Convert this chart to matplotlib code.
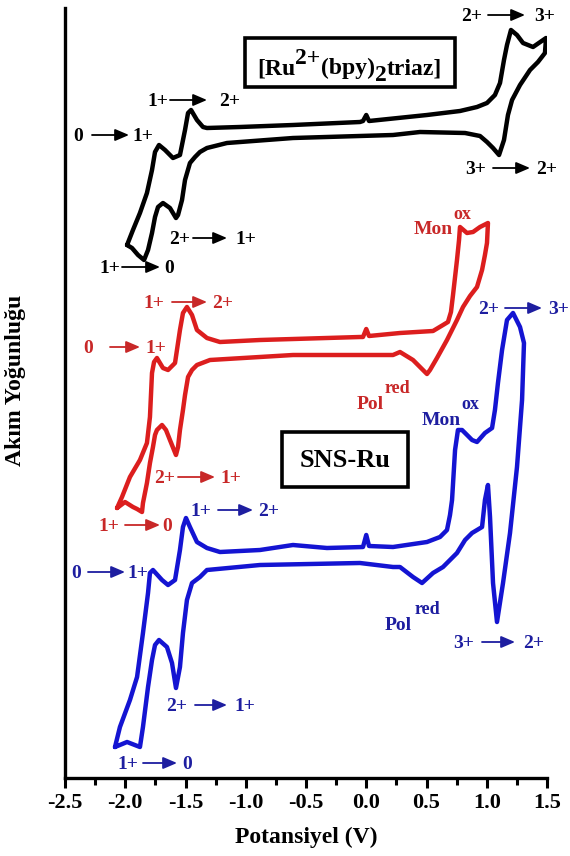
import matplotlib
matplotlib.use('Agg')
import matplotlib.pyplot as plt
from matplotlib.transforms import Affine2D
from matplotlib.patches import Rectangle
from matplotlib.ticker import MultipleLocator

# ---------------- data (potential in V, current density in a.u.) ----------------
black_V = [-1.985, -1.936, -1.878, -1.820, -1.778, -1.753, -1.720, -1.670, -1.604, -1.546,
           -1.504, -1.479, -1.454, -1.405, -1.355, -1.322, -1.048, -0.608, -0.052, -0.027,
           0.000, 0.023, 0.504, 0.778, 0.919, 1.002, 1.068, 1.110, 1.143, 1.168,
           1.201, 1.251, 1.301, 1.384, 1.492, 1.483, 1.425, 1.359, 1.276, 1.210,
           1.176, 1.143, 1.102, 1.052, 1.002, 0.944, 0.820, 0.446, 0.222, -0.608,
           -1.156, -1.322, -1.380, -1.421, -1.463, -1.504, -1.529, -1.562, -1.579, -1.629,
           -1.687, -1.728, -1.753, -1.778, -1.811, -1.844, -1.894, -1.944, -1.985]
black_I = [5.33, 5.48, 5.65, 5.85, 6.08, 6.26, 6.33, 6.28, 6.20, 6.23,
           6.48, 6.65, 6.68, 6.58, 6.51, 6.50, 6.51, 6.53, 6.56, 6.57,
           6.63, 6.57, 6.63, 6.67, 6.71, 6.75, 6.83, 6.95, 7.18, 7.33,
           7.48, 7.43, 7.35, 7.31, 7.40, 7.25, 7.16, 7.08, 6.93, 6.78,
           6.63, 6.38, 6.23, 6.30, 6.36, 6.42, 6.45, 6.46, 6.43, 6.40,
           6.35, 6.30, 6.26, 6.21, 6.15, 5.98, 5.78, 5.63, 5.60, 5.70,
           5.75, 5.71, 5.61, 5.45, 5.28, 5.18, 5.23, 5.30, 5.33]

red_V = [-2.068, -2.027, -1.961, -1.878, -1.820, -1.795, -1.778, -1.761, -1.737, -1.687,
         -1.645, -1.587, -1.546, -1.521, -1.488, -1.446, -1.405, -1.322, -1.214, -0.882,
         -0.052, -0.027, 0.000, 0.023, 0.280, 0.554, 0.637, 0.678, 0.703, 0.720,
         0.753, 0.770, 0.778, 0.836, 0.886, 0.944, 1.010, 1.002, 0.985, 0.961,
         0.919, 0.861, 0.803, 0.753, 0.670, 0.587, 0.529, 0.504, 0.446, 0.388,
         0.280, 0.222, -0.608, -1.297, -1.405, -1.446, -1.479, -1.504, -1.521, -1.546,
         -1.562, -1.579, -1.629, -1.662, -1.695, -1.737, -1.753, -1.770, -1.795, -1.820,
         -1.853, -1.861, -1.902, -1.936, -2.002, -2.068]
red_I = [2.70, 2.81, 3.01, 3.18, 3.35, 3.61, 4.05, 4.16, 4.20, 4.10,
         4.08, 4.15, 4.48, 4.65, 4.71, 4.63, 4.48, 4.40, 4.36, 4.38,
         4.41, 4.41, 4.49, 4.42, 4.45, 4.47, 4.53, 4.56, 4.66, 4.83,
         5.18, 5.38, 5.51, 5.45, 5.46, 5.51, 5.55, 5.35, 5.23, 5.08,
         4.91, 4.82, 4.71, 4.58, 4.38, 4.20, 4.08, 4.04, 4.11, 4.18,
         4.26, 4.23, 4.23, 4.18, 4.13, 4.08, 4.01, 3.83, 3.68, 3.48,
         3.31, 3.23, 3.38, 3.48, 3.53, 3.48, 3.43, 3.31, 3.15, 2.95,
         2.75, 2.66, 2.69, 2.71, 2.76, 2.70]

blue_V = [-2.085, -2.044, -1.961, -1.902, -1.853, -1.811, -1.795, -1.770, -1.695, -1.645,
          -1.587, -1.546, -1.521, -1.496, -1.463, -1.405, -1.322, -1.214, -0.882, -0.608,
          -0.326, -0.027, 0.000, 0.023, 0.222, 0.504, 0.612, 0.670, 0.695, 0.712,
          0.737, 0.761, 0.795, 0.820, 0.878, 0.919, 0.985, 1.044, 1.068, 1.093,
          1.127, 1.168, 1.218, 1.276, 1.309, 1.293, 1.251, 1.193, 1.135, 1.085,
          1.052, 1.027, 1.010, 0.985, 0.961, 0.878, 0.820, 0.753, 0.637, 0.554,
          0.463, 0.388, 0.280, 0.222, -0.052, -0.882, -1.322, -1.380, -1.446, -1.488,
          -1.521, -1.546, -1.579, -1.612, -1.654, -1.720, -1.753, -1.778, -1.811, -1.853,
          -1.878, -1.985, -2.085]
blue_I = [0.31, 0.51, 0.78, 1.01, 1.45, 1.85, 2.05, 2.08, 1.98, 1.93,
          1.98, 2.28, 2.51, 2.60, 2.51, 2.36, 2.30, 2.26, 2.28, 2.33,
          2.30, 2.31, 2.43, 2.32, 2.31, 2.36, 2.41, 2.48, 2.63, 2.78,
          3.28, 3.48, 3.48, 3.45, 3.38, 3.36, 3.45, 3.50, 3.68, 3.95,
          4.28, 4.58, 4.65, 4.51, 4.35, 3.78, 3.11, 2.45, 1.95, 1.56,
          1.95, 2.61, 2.93, 2.78, 2.51, 2.45, 2.38, 2.25, 2.11, 2.05,
          1.95, 2.01, 2.11, 2.11, 2.15, 2.13, 2.08, 2.01, 1.95, 1.78,
          1.45, 1.11, 0.90, 1.15, 1.31, 1.38, 1.33, 1.18, 0.91, 0.51,
          0.31, 0.36, 0.31]

x_ticks = [-2.5, -2.0, -1.5, -1.0, -0.5, 0.0, 0.5, 1.0, 1.5]
x_tick_labels = ['-2.5', '-2.0', '-1.5', '-1.0', '-0.5', '0.0', '0.5', '1.0', '1.5']

BLACK = '#000000'
RED = '#dc1e1e'
BLUE = '#1414d2'
RED_T = '#c82828'
BLUE_T = '#1e1ea0'

# ---------------- style ----------------
plt.rcParams['font.family'] = ['Liberation Serif', 'DejaVu Serif']
plt.rcParams['font.weight'] = 'bold'

W, H = 570, 856
fig = plt.figure(figsize=(W / 100, H / 100), dpi=100)
ax = fig.add_axes([65 / W, 1 - 778 / H, 482 / W, 770 / H])

for V, I, c in [(black_V, black_I, BLACK), (red_V, red_I, RED), (blue_V, blue_I, BLUE)]:
    ax.plot(V, I, color=c, lw=3.2, solid_joinstyle='round', solid_capstyle='round')

ax.set_xlim(-2.5, 1.5)
ax.set_ylim(0, 7.70)
for s in ['top', 'right']:
    ax.spines[s].set_visible(False)
for s in ['left', 'bottom']:
    ax.spines[s].set_linewidth(2.4)
ax.set_yticks([])
ax.set_xticks(x_ticks)
ax.set_xticklabels(x_tick_labels)
ax.xaxis.set_minor_locator(MultipleLocator(0.25))
ax.tick_params(axis='x', which='major', direction='out', length=7, width=2.2, pad=3.5,
               labelsize=16)
ax.tick_params(axis='x', which='minor', direction='out', length=5, width=2.2)
for lab in ax.get_xticklabels():
    lab.set_fontweight('bold')

ax.set_xlabel('Potansiyel (V)', fontsize=17, fontweight='bold', labelpad=10)
ax.set_ylabel('Akım Yoğunluğu', fontsize=17, fontweight='bold')
ax.yaxis.set_label_coords(-0.080, 0.517)

# pixel transform for annotations (origin top-left of the image)
PX = Affine2D().scale(1 / W, -1 / H).translate(0, 1) + fig.transFigure


def ttext(x, y, s, color, fs=14, ha='center', va='baseline'):
    return ax.text(x, y, s, transform=PX, ha=ha, va=va, color=color, fontsize=fs,
                   fontweight='bold', clip_on=False)


def trans(a, b, xa, x0, x1, xb, y, color):
    ttext(xa, y + 6, a, color)
    ttext(xb, y + 6, b, color)
    ax.annotate('', xy=(x1, y), xytext=(x0, y), xycoords=PX, textcoords=PX,
                arrowprops=dict(arrowstyle='-|>,head_length=0.7,head_width=0.3',
                                color=color, lw=1.3, shrinkA=0, shrinkB=0,
                                mutation_scale=12), annotation_clip=False)


# black
trans('1+', '2+', 158, 170, 207, 230, 100, BLACK)
trans('0', '1+', 78, 92, 129, 143, 135, BLACK)
trans('3+', '2+', 476, 493, 530, 547, 168, BLACK)
trans('2+', '3+', 472, 488, 525, 545, 15, BLACK)
trans('2+', '1+', 180, 193, 227, 246, 238, BLACK)
trans('1+', '0', 110, 122, 160, 169, 267, BLACK)
# red
trans('1+', '2+', 154, 172, 207, 223, 302, RED_T)
trans('0', '1+', 88, 110, 140, 156, 347, RED_T)
trans('2+', '1+', 165, 178, 215, 231, 477, RED_T)
trans('1+', '0', 109, 125, 160, 167, 525, RED_T)
ttext(433, 234, 'Mon', RED_T)
ttext(462, 219, 'ox', RED_T, fs=13)
ttext(370, 409, 'Pol', RED_T)
ttext(397, 393, 'red', RED_T, fs=13)
# blue
trans('1+', '2+', 201, 218, 253, 269, 510, BLUE_T)
trans('0', '1+', 76, 88, 125, 138, 572, BLUE_T)
trans('2+', '1+', 177, 195, 227, 245, 705, BLUE_T)
trans('1+', '0', 128, 143, 177, 187, 763, BLUE_T)
trans('3+', '2+', 464, 482, 515, 534, 642, BLUE_T)
trans('2+', '3+', 489, 505, 542, 559, 308, BLUE_T)
ttext(441, 425, 'Mon', BLUE_T)
ttext(470, 409, 'ox', BLUE_T, fs=13)
ttext(398, 630, 'Pol', BLUE_T)
ttext(427, 614, 'red', BLUE_T, fs=13)

# boxes
ax.add_patch(Rectangle((245, 38), 210, 49, transform=PX, fill=False, lw=2.6,
                       edgecolor='black', clip_on=False))
ax.add_patch(Rectangle((282, 432), 126, 55, transform=PX, fill=False, lw=2.6,
                       edgecolor='black', clip_on=False))
ttext(345, 467, 'SNS-Ru', BLACK, fs=19)

fs_box = 17
t0 = ttext(257, 74, '[Ru', BLACK, fs=fs_box, ha='left')
pieces = [('2+', 7), ('(bpy)', -7), ('2', -5), ('triaz]', 5)]
prev = t0
for s, dy in pieces:
    prev = ax.annotate(s, xy=(1, 0), xycoords=prev, xytext=(0, dy),
                       textcoords='offset points', ha='left', va='bottom',
                       fontsize=fs_box, fontweight='bold', color=BLACK,
                       annotation_clip=False)

fig.savefig('out.png', dpi=100)
